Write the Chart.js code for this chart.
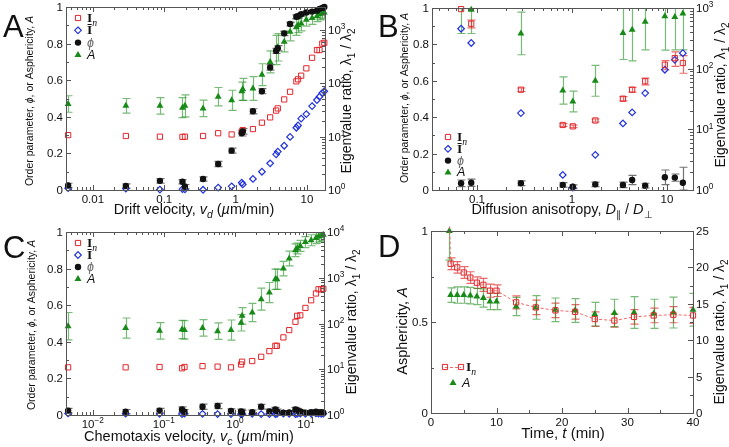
<!DOCTYPE html>
<html>
<head>
<meta charset="utf-8">
<script src="https://cdn.jsdelivr.net/npm/chart.js@4.4.1/dist/chart.umd.min.js"></script>
<style>
body { margin: 0; background: #fff; }
canvas { position: absolute; }
</style>
</head>
<body>
<canvas id="chartA" width="365" height="222" style="left:0;top:0"></canvas>
<canvas id="chartB" width="364" height="222" style="left:365px;top:0"></canvas>
<canvas id="chartC" width="365" height="225" style="left:0;top:222px"></canvas>
<canvas id="chartD" width="364" height="225" style="left:365px;top:222px"></canvas>
<script>
// --- A: drift velocity ---
const vDrift = [0.0045, 0.029, 0.087, 0.18, 0.195, 0.35, 0.57, 0.88, 1.22, 1.26, 1.75, 2.34, 3.05, 3.7, 3.9, 4.8, 5.8, 7.1, 7.5, 8.3, 9.8, 11.8, 13.8, 15.0, 16.4, 17.5];
const phiDrift = [0.025, 0.022, 0.05, 0.045, 0.018, 0.06, 0.142, 0.215, 0.31, 0.32, 0.43, 0.54, 0.67, 0.76, 0.775, 0.856, 0.907, 0.947, 0.95, 0.96, 0.97, 0.975, 0.98, 0.99, 0.995, 1.0];
const phiDriftErr = [0.012, 0.012, 0.012, 0.012, 0.012, 0.012, 0.014, 0.014, 0.015, 0.015, 0.014, 0.014, 0.015, 0.014, 0.014, 0.012, 0.01, 0.01, 0.01, 0.008, 0.008, 0.008, 0.006, 0.006, 0.006, 0.006];
const aspDrift = [0.47, 0.46, 0.46, 0.45, 0.46, 0.446, 0.51, 0.49, 0.54, 0.55, 0.555, 0.63, 0.70, 0.765, 0.78, 0.81, 0.865, 0.89, 0.90, 0.91, 0.93, 0.94, 0.95, 0.96, 0.965, 0.97];
const aspDriftErr = [0.045, 0.04, 0.045, 0.055, 0.06, 0.045, 0.05, 0.055, 0.05, 0.06, 0.065, 0.06, 0.06, 0.08, 0.075, 0.055, 0.05, 0.045, 0.04, 0.04, 0.035, 0.035, 0.03, 0.03, 0.03, 0.03];
const inDrift = [10.7, 10.3, 10.0, 9.9, 10.0, 10.3, 11.6, 11.0, 12.3, 13.3, 13.9, 18.3, 23.0, 30.8, 33.9, 49.9, 69.5, 109, 119, 139, 191, 302, 421, 421, 555, 577];
const ibDrift = [1.08, 1.065, 1.02, 1.04, 1.03, 1.01, 1.11, 1.17, 1.37, 1.27, 1.61, 2.2, 3.17, 4.67, 5.25, 6.76, 9.9, 14.7, 16.2, 21.8, 26.5, 37.5, 48.7, 56.1, 65.8, 71.1];

// --- B: diffusion anisotropy ---
const aniso = [0.068, 0.087, 0.29, 0.80, 1.02, 1.76, 3.44, 4.3, 5.9, 9.5, 12.1, 14.7];
const phiAniso = [0.037, 0.04, 0.037, 0.028, 0.018, 0.031, 0.028, 0.055, 0.024, 0.07, 0.068, 0.04];
const phiAnisoErr = [0.018, 0.02, 0.013, 0.012, 0.01, 0.012, 0.015, 0.025, 0.013, 0.04, 0.02, 0.085];
const aspAniso = [1.06, 0.99, 0.86, 0.547, 0.486, 0.60, 0.862, 0.88, 0.925, 0.954, 0.95, 0.97];
const aspAnisoErr = [0.2, 0.13, 0.117, 0.075, 0.057, 0.085, 0.145, 0.17, 0.155, 0.185, 0.18, 0.2];
const inAniso = [960, 550, 45, 11.8, 11.2, 14, 32, 45, 62, 116, 149, 124];
const inAnisoErr = [0, 80, 3, 0.6, 0.5, 0.8, 2.5, 4, 8, 20, 40, 40];
const ibAniso = [455, 265, 18.5, 1.77, 1.1, 3.8, 12.5, 19, 39.6, 96, 140, 180];

// --- C: chemotaxis velocity ---
const vChemo = vDrift;
const phiChemo = [0.024, 0.018, 0.024, 0.03, 0.018, 0.045, 0.049, 0.022, 0.02, 0.015, 0.015, 0.045, 0.02, 0.03, 0.02, 0.012, 0.014, 0.03, 0.025, 0.02, 0.012, 0.015, 0.018, 0.012, 0.015, 0.012];
const phiChemoErr = [0.012, 0.012, 0.012, 0.014, 0.012, 0.014, 0.014, 0.012, 0.012, 0.012, 0.012, 0.013, 0.012, 0.012, 0.012, 0.01, 0.01, 0.012, 0.012, 0.01, 0.01, 0.01, 0.01, 0.01, 0.01, 0.01];
const aspChemo = [0.485, 0.475, 0.46, 0.467, 0.465, 0.476, 0.458, 0.464, 0.504, 0.542, 0.56, 0.633, 0.669, 0.742, 0.742, 0.80, 0.855, 0.90, 0.91, 0.924, 0.945, 0.955, 0.967, 0.975, 0.98, 0.985];
const aspChemoErr = [0.075, 0.055, 0.045, 0.05, 0.05, 0.045, 0.045, 0.055, 0.045, 0.045, 0.05, 0.06, 0.055, 0.055, 0.055, 0.04, 0.04, 0.035, 0.03, 0.03, 0.03, 0.03, 0.03, 0.03, 0.03, 0.03];
const inChemo = [11.0, 11.0, 11.2, 10.5, 11.2, 11.7, 11.4, 11.0, 12.7, 14.6, 15.1, 18.7, 24.9, 32.5, 32.5, 49.7, 71.8, 109, 147, 151, 219, 322, 453, 560, 560, 575];
const ibChemo = [1.08, 1.07, 1.06, 1.05, 1.07, 1.06, 1.05, 1.05, 1.04, 1.05, 1.06, 1.05, 1.04, 1.05, 1.06, 1.07, 1.06, 1.05, 1.06, 1.07, 1.06, 1.07, 1.08, 1.07, 1.06, 1.07];

// --- D: time course ---
const timeMin = [2.8, 3, 4, 5, 6, 7, 8, 9, 10, 13, 16, 19, 22, 25, 28, 31, 34, 37, 40];
const aspTime = [1.0, 0.648, 0.648, 0.648, 0.645, 0.64, 0.632, 0.613, 0.613, 0.585, 0.58, 0.567, 0.563, 0.543, 0.55, 0.552, 0.545, 0.552, 0.567];
const aspTimeErr = [0.16, 0.04, 0.045, 0.045, 0.045, 0.045, 0.05, 0.045, 0.045, 0.05, 0.065, 0.065, 0.065, 0.065, 0.075, 0.087, 0.08, 0.085, 0.09];
const inTime = [27, 20.5, 20.0, 19.3, 18.6, 17.9, 17.6, 16.8, 16.8, 15.2, 14.5, 14.1, 13.9, 12.9, 12.7, 13.2, 13.4, 13.5, 13.4];
const inTimeErr = [0, 0.8, 0.8, 0.8, 0.8, 0.8, 0.9, 0.9, 0.8, 0.9, 1.0, 1.0, 1.0, 1.0, 0.9, 1.0, 1.0, 1.1, 1.1];

const sans = '"Liberation Sans", Arial, Helvetica, sans-serif';
const serif = '"Liberation Serif", "Times New Roman", serif';
const ink = '#111';
const frameColor = '#555';
const red = '#e3262b', blue = '#2233dd', green = '#178a17', black = '#111';
const greenErr = 'rgba(30,140,30,0.6)', greyErr = 'rgba(40,40,40,0.65)', redErr = 'rgba(225,40,40,0.7)';

const sq = {pointStyle: 'rect', pointRadius: 3.7, borderColor: red, backgroundColor: 'rgba(255,255,255,0)', borderWidth: 1};
const dia = {pointStyle: 'rectRot', pointRadius: 3.3, borderColor: blue, backgroundColor: 'rgba(255,255,255,0)', borderWidth: 1.2};
const dot = {pointStyle: 'circle', pointRadius: 3.2, borderColor: black, backgroundColor: black, borderWidth: 0};
const tri = {pointStyle: 'triangle', pointRadius: 4, borderColor: green, backgroundColor: green, borderWidth: 0};

function pts(xs, ys) { return xs.map((x, i) => ({x: x, y: ys[i]})); }

function num(v) { return String(parseFloat(v.toPrecision(6))); }
const dec = v => [{t: num(v)}];
const pow = v => [{t: '10'}, {t: String(Math.round(Math.log10(v))).replace('-', '\u2212'), sup: 1}];

// text with mixed italic / sub / sup pieces, y is the baseline
function rich(ctx, parts, x, y, size, align, rot) {
  ctx.save();
  ctx.translate(x, y);
  if (rot) ctx.rotate(-Math.PI / 2);
  ctx.textBaseline = 'alphabetic';
  ctx.textAlign = 'left';
  const fonts = parts.map(p => {
    const sz = (p.sub || p.sup) ? size * 0.72 : size;
    return (p.i ? 'italic ' : '') + (p.b ? 'bold ' : '') + sz + 'px ' + (p.serif ? serif : sans);
  });
  let w = 0;
  const ws = parts.map((p, k) => { ctx.font = fonts[k]; const m = ctx.measureText(p.t).width; w += m; return m; });
  let cx = align === 'left' ? 0 : align === 'right' ? -w : -w / 2;
  parts.forEach((p, k) => {
    ctx.font = fonts[k];
    ctx.fillStyle = p.color || ink;
    const dy = p.sub ? size * 0.28 : p.sup ? -size * 0.42 : 0;
    ctx.fillText(p.t, cx, dy);
    cx += ws[k];
  });
  ctx.restore();
}

function drawSym(ctx, kind, x, y, color) {
  ctx.save();
  ctx.strokeStyle = color;
  ctx.fillStyle = color;
  ctx.lineWidth = 1;
  ctx.beginPath();
  if (kind === 'rect') {
    ctx.rect(x - 2.6, y - 2.6, 5.2, 5.2); ctx.stroke();
  } else if (kind === 'rectRot') {
    ctx.lineWidth = 1.2;
    ctx.moveTo(x, y - 3.3); ctx.lineTo(x + 3.3, y); ctx.lineTo(x, y + 3.3); ctx.lineTo(x - 3.3, y); ctx.closePath(); ctx.stroke();
  } else if (kind === 'circle') {
    ctx.arc(x, y, 3.2, 0, Math.PI * 2); ctx.fill();
  } else {
    ctx.moveTo(x, y - 4); ctx.lineTo(x + 3.5, y + 2); ctx.lineTo(x - 3.5, y + 2); ctx.closePath(); ctx.fill();
  }
  ctx.restore();
}

function logTicks(min, max) {
  const major = [], minor = [];
  for (let e = Math.floor(Math.log10(min)); e <= Math.ceil(Math.log10(max)); e++) {
    for (let k = 1; k <= 9; k++) {
      const v = k * Math.pow(10, e);
      if (v < min * 0.9999 || v > max * 1.0001) continue;
      (k === 1 ? major : minor).push(v);
    }
  }
  return {major, minor};
}

function linTicks(min, max, step, minorStep) {
  const major = [], minor = [];
  const n = Math.round((max - min) / minorStep);
  for (let i = 0; i <= n; i++) {
    const v = min + i * minorStep;
    const r = v / step;
    if (Math.abs(r - Math.round(r)) < 1e-6) major.push(v); else minor.push(v);
  }
  return {major, minor};
}

function drawErrors(chart) {
  const ctx = chart.ctx, a = chart.chartArea;
  ctx.save();
  ctx.beginPath();
  ctx.rect(a.left, a.top, a.right - a.left, a.bottom - a.top);
  ctx.clip();
  chart.data.datasets.forEach((ds, di) => {
    if (!ds.errs) return;
    const meta = chart.getDatasetMeta(di);
    const ys = chart.scales[meta.yAxisID];
    ctx.strokeStyle = ds.errColor;
    ctx.lineWidth = 1.2;
    meta.data.forEach((pt, i) => {
      const e = ds.errs[i];
      if (!e) return;
      const v = ds.data[i].y;
      const lo = ys.getPixelForValue(Math.max(v - e, ys.min));
      const hi = ys.getPixelForValue(v + e);
      const x = Math.round(pt.x) + 0.5;
      ctx.beginPath();
      ctx.moveTo(x, lo); ctx.lineTo(x, hi);
      ctx.moveTo(x - 4, lo); ctx.lineTo(x + 4, lo);
      ctx.moveTo(x - 4, hi); ctx.lineTo(x + 4, hi);
      ctx.stroke();
    });
  });
  ctx.restore();
}

function drawAxis(chart, ax) {
  const ctx = chart.ctx, a = chart.chartArea, s = chart.scales[ax.id];
  const t = ax.kind === 'log' ? logTicks(s.min, s.max) : linTicks(s.min, s.max, ax.step, ax.minor);
  ctx.save();
  ctx.strokeStyle = frameColor;
  ctx.lineWidth = 1;
  const mark = (v, len) => {
    const p = Math.round(s.getPixelForValue(v)) + 0.5;
    ctx.beginPath();
    if (ax.side === 'bottom') {
      ctx.moveTo(p, a.bottom); ctx.lineTo(p, a.bottom - len);
      ctx.moveTo(p, a.top); ctx.lineTo(p, a.top + len);
    } else if (ax.side === 'left') {
      ctx.moveTo(a.left, p); ctx.lineTo(a.left + len, p);
    } else {
      ctx.moveTo(a.right, p); ctx.lineTo(a.right - len, p);
    }
    ctx.stroke();
  };
  t.major.forEach(v => mark(v, 5));
  t.minor.forEach(v => mark(v, 3));
  ctx.restore();
  t.major.forEach(v => {
    const p = s.getPixelForValue(v);
    const parts = ax.fmt(v);
    if (ax.side === 'bottom') rich(ctx, parts, p, a.bottom + 13, 11.5, 'center');
    else if (ax.side === 'left') rich(ctx, parts, a.left - 3, p + 4, 11.5, 'right');
    else rich(ctx, parts, a.right + 3, p + 4, 11.5, 'left');
  });
}

function makeDeco(p) {
  return {
    id: 'deco',
    beforeDatasetsDraw(chart) { drawErrors(chart); },
    afterDraw(chart) {
      const ctx = chart.ctx, a = chart.chartArea;
      ctx.save();
      ctx.strokeStyle = frameColor;
      ctx.lineWidth = 1;
      ctx.strokeRect(Math.round(a.left) + 0.5, Math.round(a.top) + 0.5, Math.round(a.right - a.left), Math.round(a.bottom - a.top));
      ctx.restore();
      p.axes.forEach(ax => drawAxis(chart, ax));
      p.titles.forEach(tt => rich(ctx, tt.parts, tt.x, tt.y, tt.size, 'center', tt.rot));
      rich(ctx, [{t: p.letter.t}], p.letter.x, p.letter.y, 31, 'left');
      const lg = p.legend;
      lg.items.forEach((it, k) => {
        const y = lg.y + k * lg.dy;
        if (it.line) {
          ctx.save();
          ctx.strokeStyle = 'rgba(240,90,90,0.9)';
          ctx.setLineDash([3, 2]);
          ctx.beginPath(); ctx.moveTo(lg.x - 8, y + 0.5); ctx.lineTo(lg.x + 8, y + 0.5); ctx.stroke();
          ctx.restore();
          drawSym(ctx, it.sym, lg.x - 8, y, it.color);
          drawSym(ctx, it.sym, lg.x + 8, y, it.color);
        } else {
          drawSym(ctx, it.sym, lg.x, y, it.color);
        }
        rich(ctx, it.parts, lg.x + (it.line ? 13 : 9), y + 4, it.size || 12.5, 'left');
      });
    }
  };
}

function makePanel(id, p) {
  const scales = {};
  for (const k in p.scales) scales[k] = Object.assign({display: false}, p.scales[k]);
  return new Chart(document.getElementById(id), {
    type: 'scatter',
    data: {datasets: p.datasets.map(d => Object.assign({clip: 5}, d))},
    options: {
      responsive: false,
      animation: false,
      events: [],
      layout: {padding: p.pad},
      scales: scales,
      plugins: {legend: {display: false}, tooltip: {enabled: false}}
    },
    plugins: [makeDeco(p)]
  });
}

const eigTitle = [{t: 'Eigenvalue ratio, \u03bb'}, {t: '1', sub: 1}, {t: ' / \u03bb'}, {t: '2', sub: 1}];
const orderTitle = [{t: 'Order parameter, '}, {t: '\u03d5', i: 1}, {t: ', or Asphericity, '}, {t: 'A', i: 1}];
const legIn = [{t: 'I', serif: 1, b: 1}, {t: 'n', serif: 1, i: 1, sub: 1}];
const legFour = [
  {sym: 'rect', color: red, parts: legIn, size: 13.5},
  {sym: 'rectRot', color: blue, parts: [{t: '\u012a', serif: 1, b: 1}], size: 13.5},
  {sym: 'circle', color: black, parts: [{t: '\u03d5', i: 1, color: '#666'}]},
  {sym: 'triangle', color: green, parts: [{t: 'A', i: 1}]}
];

makePanel('chartA', {
  pad: {left: 66, right: 40, top: 7, bottom: 32},
  scales: {
    x: {type: 'logarithmic', min: 0.0042, max: 17.9},
    y: {type: 'linear', min: 0, max: 1},
    y2: {type: 'logarithmic', min: 1, max: 2700}
  },
  datasets: [
    Object.assign({data: pts(vDrift, phiDrift), errs: phiDriftErr, errColor: greyErr, yAxisID: 'y'}, dot),
    Object.assign({data: pts(vDrift, aspDrift), errs: aspDriftErr, errColor: greenErr, yAxisID: 'y'}, tri),
    Object.assign({data: pts(vDrift, inDrift), yAxisID: 'y2'}, sq),
    Object.assign({data: pts(vDrift, ibDrift), yAxisID: 'y2'}, dia)
  ],
  axes: [
    {id: 'x', kind: 'log', side: 'bottom', fmt: dec},
    {id: 'y', kind: 'lin', step: 0.2, minor: 0.1, side: 'left', fmt: dec},
    {id: 'y2', kind: 'log', side: 'right', fmt: pow}
  ],
  letter: {t: 'A', x: 3, y: 37},
  titles: [
    {parts: [{t: 'Drift velocity, '}, {t: 'v', i: 1}, {t: 'd', i: 1, sub: 1}, {t: ' ('}, {t: '\u00b5', i: 1}, {t: 'm/min)'}], x: 194, y: 214, size: 14.5},
    {parts: orderTitle, x: 33, y: 101, size: 10.5, rot: true},
    {parts: eigTitle, x: 351, y: 101, size: 14, rot: true}
  ],
  legend: {x: 78, y: 18, dy: 12.3, items: legFour}
});

makePanel('chartB', {
  pad: {left: 67, right: 36, top: 8, bottom: 32},
  scales: {
    x: {type: 'logarithmic', min: 0.0336, max: 18.8},
    y: {type: 'linear', min: 0, max: 1},
    y2: {type: 'logarithmic', min: 1, max: 1000}
  },
  datasets: [
    Object.assign({data: pts(aniso, phiAniso), errs: phiAnisoErr, errColor: greyErr, yAxisID: 'y'}, dot),
    Object.assign({data: pts(aniso, aspAniso), errs: aspAnisoErr, errColor: greenErr, yAxisID: 'y'}, tri),
    Object.assign({data: pts(aniso, inAniso), errs: inAnisoErr, errColor: redErr, yAxisID: 'y2'}, sq),
    Object.assign({data: pts(aniso, ibAniso), yAxisID: 'y2'}, dia)
  ],
  axes: [
    {id: 'x', kind: 'log', side: 'bottom', fmt: dec},
    {id: 'y', kind: 'lin', step: 0.2, minor: 0.1, side: 'left', fmt: dec},
    {id: 'y2', kind: 'log', side: 'right', fmt: pow}
  ],
  letter: {t: 'B', x: 13, y: 37},
  titles: [
    {parts: [{t: 'Diffusion anisotropy, '}, {t: 'D', i: 1}, {t: '\u2225', sub: 1}, {t: ' / '}, {t: 'D', i: 1}, {t: '\u22a5', sub: 1}], x: 197, y: 214, size: 14.5},
    {parts: orderTitle, x: 43, y: 98, size: 10.5, rot: true},
    {parts: eigTitle, x: 360, y: 95, size: 14, rot: true}
  ],
  legend: {x: 83, y: 137, dy: 11.8, items: legFour}
});

makePanel('chartC', {
  pad: {left: 66, right: 41, top: 10, bottom: 32},
  scales: {
    x: {type: 'logarithmic', min: 0.0042, max: 17.9},
    y: {type: 'linear', min: 0, max: 1},
    y2: {type: 'logarithmic', min: 1, max: 10000}
  },
  datasets: [
    Object.assign({data: pts(vChemo, phiChemo), errs: phiChemoErr, errColor: greyErr, yAxisID: 'y'}, dot),
    Object.assign({data: pts(vChemo, aspChemo), errs: aspChemoErr, errColor: greenErr, yAxisID: 'y'}, tri),
    Object.assign({data: pts(vChemo, inChemo), yAxisID: 'y2'}, sq),
    Object.assign({data: pts(vChemo, ibChemo), yAxisID: 'y2'}, dia)
  ],
  axes: [
    {id: 'x', kind: 'log', side: 'bottom', fmt: pow},
    {id: 'y', kind: 'lin', step: 0.2, minor: 0.1, side: 'left', fmt: dec},
    {id: 'y2', kind: 'log', side: 'right', fmt: pow}
  ],
  letter: {t: 'C', x: 3, y: 36},
  titles: [
    {parts: [{t: 'Chemotaxis velocity, '}, {t: 'v', i: 1}, {t: 'c', i: 1, sub: 1}, {t: ' ('}, {t: '\u00b5', i: 1}, {t: 'm/min)'}], x: 189, y: 219, size: 14.5},
    {parts: orderTitle, x: 35, y: 103, size: 10.5, rot: true},
    {parts: eigTitle, x: 356, y: 100, size: 14, rot: true}
  ],
  legend: {x: 78, y: 21, dy: 12, items: legFour}
});

makePanel('chartD', {
  pad: {left: 66, right: 36, top: 9, bottom: 34},
  scales: {
    x: {type: 'linear', min: 0, max: 40},
    y: {type: 'linear', min: 0, max: 1},
    y2: {type: 'linear', min: 0, max: 25}
  },
  datasets: [
    Object.assign({data: pts(timeMin, inTime), errs: inTimeErr, errColor: redErr, yAxisID: 'y2', showLine: true,
      borderDash: [3, 2], pointBorderColor: red, pointBackgroundColor: 'rgba(255,255,255,0)'}, sq, {borderColor: 'rgba(240,90,90,0.9)'}),
    Object.assign({data: pts(timeMin, aspTime), errs: aspTimeErr, errColor: greenErr, yAxisID: 'y'}, tri)
  ],
  axes: [
    {id: 'x', kind: 'lin', step: 10, minor: 5, side: 'bottom', fmt: dec},
    {id: 'y', kind: 'lin', step: 0.5, minor: 0.25, side: 'left', fmt: dec},
    {id: 'y2', kind: 'lin', step: 5, minor: 2.5, side: 'right', fmt: dec}
  ],
  letter: {t: 'D', x: 13, y: 35},
  titles: [
    {parts: [{t: 'Time, '}, {t: 't', i: 1}, {t: ' (min)'}], x: 198, y: 216, size: 15},
    {parts: [{t: 'Asphericity, '}, {t: 'A', i: 1}], x: 42, y: 109, size: 14.5, rot: true},
    {parts: eigTitle, x: 359, y: 110, size: 14, rot: true}
  ],
  legend: {x: 88, y: 145, dy: 16, items: [
    {sym: 'rect', color: red, parts: legIn, size: 13.5, line: true},
    {sym: 'triangle', color: green, parts: [{t: 'A', i: 1}]}
  ]}
});
</script>
</body>
</html>
